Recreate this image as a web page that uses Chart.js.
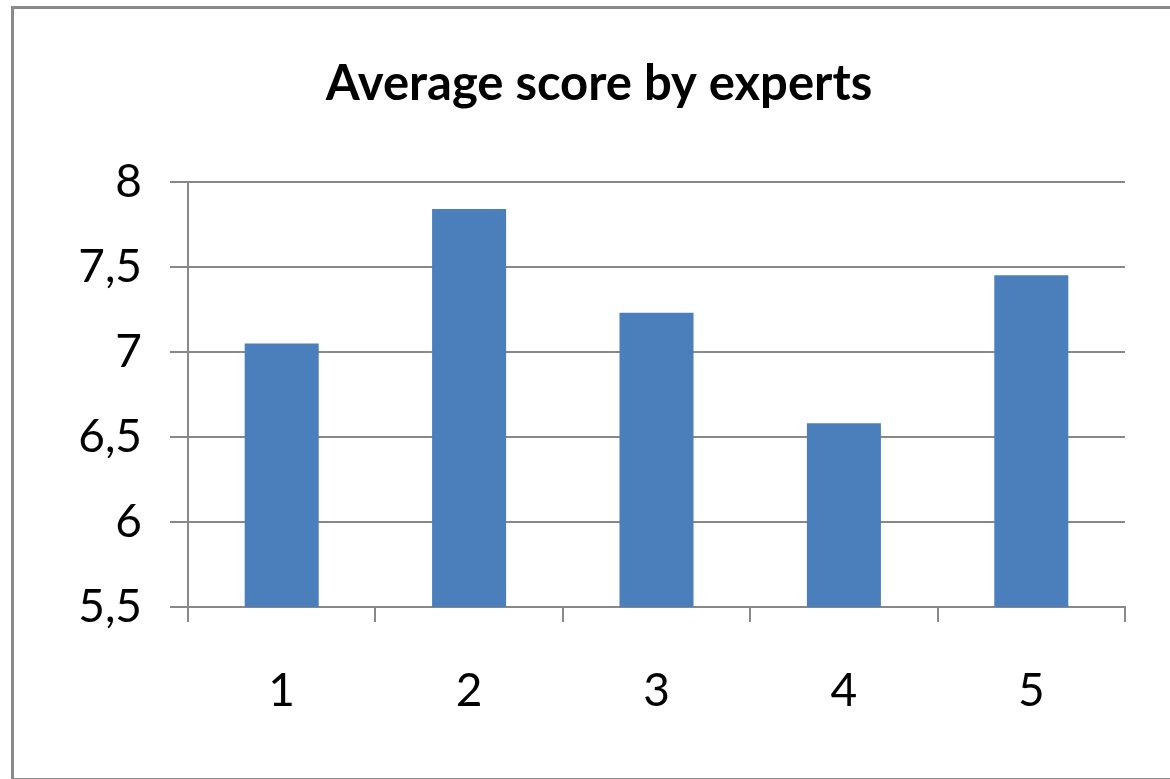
<!DOCTYPE html>
<html>
<head>
<meta charset="utf-8">
<script src="https://cdn.jsdelivr.net/npm/chart.js@4"></script>
<style>
  html, body { margin: 0; padding: 0; background: #fff; }
  #wrap { position: relative; width: 1170px; height: 779px; }
  #frame { position: absolute; left: 11px; top: 6px; width: 1162px; height: 775px; border: 3px solid #8a8a8a; box-sizing: border-box; pointer-events: none; }
  canvas { position: absolute; left: 0; top: 0; }
</style>
</head>
<body>
<div id="wrap">
  <canvas id="c" width="1170" height="779"></canvas>
  <div id="frame"></div>
</div>
<script>
const categories = ['1', '2', '3', '4', '5'];
const averageScores = [7.05, 7.84, 7.23, 6.58, 7.45];
const yTickValues = [5.5, 6, 6.5, 7, 7.5, 8];
const yTickLabels = ['5,5', '6', '6,5', '7', '7,5', '8'];
const chartTitle = 'Average score by experts';

const FONT = 'Lato, "Open Sans", sans-serif';

new Chart(document.getElementById('c'), {
  type: 'bar',
  data: {
    labels: categories,
    datasets: [{
      data: averageScores,
      backgroundColor: '#4A7FBC',
      borderWidth: 0,
      barPercentage: 0.395,
      categoryPercentage: 1.0
    }]
  },
  options: {
    responsive: false,
    animation: false,
    devicePixelRatio: 1,
    layout: { padding: { left: 73, right: 45, top: 55, bottom: 0 } },
    plugins: {
      legend: { display: false },
      tooltip: { enabled: false },
      title: {
        display: true,
        text: chartTitle,
        color: '#000',
        font: { family: FONT, size: 49, weight: 'bold' },
        padding: { top: 0, bottom: 68 }
      }
    },
    scales: {
      x: {
        offset: true,
        grid: {
          offset: true,
          drawOnChartArea: false,
          drawTicks: true,
          tickLength: 15,
          color: '#888',
          lineWidth: 2
        },
        border: { color: '#888', width: 2 },
        ticks: {
          color: '#000',
          font: { family: FONT, size: 46 },
          padding: 42
        },
        afterFit: (s) => { s.height = 172; }
      },
      y: {
        min: 5.5,
        max: 8,
        afterBuildTicks: (s) => { s.ticks = yTickValues.map(v => ({ value: v })); },
        grid: {
          drawTicks: true,
          tickLength: 18,
          color: '#888',
          lineWidth: 2
        },
        border: { color: '#888', width: 2 },
        ticks: {
          color: '#000',
          font: { family: FONT, size: 46 },
          padding: 28,
          callback: (v, i) => yTickLabels[i]
        },
        afterFit: (s) => { s.width = 115; }
      }
    }
  }
});
</script>
</body>
</html>
